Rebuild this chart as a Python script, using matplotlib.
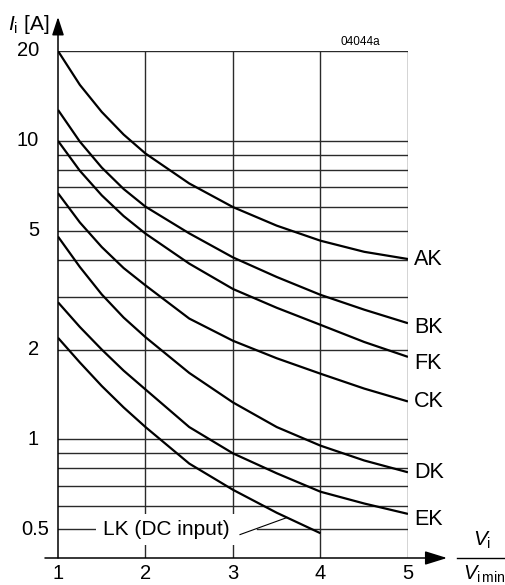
import numpy as np
import matplotlib
matplotlib.use("Agg")
import matplotlib.pyplot as plt
import matplotlib.transforms as mtrans

plt.rcParams['font.family'] = ['Liberation Sans', 'DejaVu Sans']
plt.rcParams['mathtext.fontset'] = 'custom'
plt.rcParams['mathtext.rm'] = 'Liberation Sans'
plt.rcParams['mathtext.it'] = 'Liberation Sans:italic'

# input voltage ratio Vi / Vi min
x_ratio = [1, 1.25, 1.5, 1.75, 2, 2.5, 3, 3.5, 4, 4.5, 5]

# input current Ii [A] per model
curve_names = ['AK', 'BK', 'FK', 'CK', 'DK', 'EK']
ak = [20.0, 15.4, 12.5, 10.5, 9.07, 7.2, 6.0, 5.2, 4.63, 4.25, 4.02]
bk = [12.7, 9.94, 8.14, 6.9, 6.02, 4.9, 4.07, 3.5, 3.05, 2.72, 2.45]
fk = [10.0, 7.94, 6.57, 5.6, 4.89, 3.88, 3.19, 2.76, 2.42, 2.12, 1.89]
ck = [6.68, 5.33, 4.41, 3.75, 3.28, 2.54, 2.14, 1.87, 1.66, 1.48, 1.34]
dk = [4.78, 3.78, 3.06, 2.56, 2.2, 1.67, 1.33, 1.1, 0.953, 0.85, 0.776]
ek = [2.88, 2.38, 2.0, 1.7, 1.47, 1.1, 0.898, 0.77, 0.668, 0.61, 0.563]
curves = [ak, bk, fk, ck, dk, ek]

# LK (DC input) stops at 4
x_lk = [1, 1.25, 1.5, 1.75, 2, 2.5, 3, 3.5, 4]
lk = [2.19, 1.81, 1.51, 1.28, 1.10, 0.83, 0.678, 0.568, 0.485]

x_ticks = [1, 2, 3, 4, 5]
y_ticks = [20, 10, 5, 2, 1, 0.5]
y_tick_labels = ['20', '10', '5', '2', '1', '0.5']
h_grid = [20, 10, 9, 8, 7, 6, 5, 4, 3, 2, 1, 0.9, 0.8, 0.7, 0.6]

fig = plt.figure(figsize=(5.06, 5.85), dpi=100)
ax = fig.add_axes([58 / 506, 27 / 585, 350 / 506, 507 / 585])
ax.set_yscale('log')
ax.set_xlim(1, 5)
ymin = 0.4007
ax.set_ylim(ymin, 20)
ax.axis('off')

gc = '#2a2a2a'
# grid
for v in h_grid:
    ax.plot([1, 5], [v, v], color=gc, lw=1.0, zorder=1)
# 0.5 line is interrupted by the LK label
ax.plot([1, 1.446], [0.5, 0.5], color=gc, lw=1.0, zorder=1)
ax.plot([3.274, 5], [0.5, 0.5], color=gc, lw=1.0, zorder=1)
for v in x_ticks[1:]:
    ax.plot([v, v], [ymin, 20], color=gc, lw=1.0, zorder=1)

# axes with arrows
arrow_kw = dict(color='black', lw=1.1, shrinkA=0, shrinkB=0)
ax.annotate('', xy=(1, 26.0), xytext=(1, ymin), annotation_clip=False,
            arrowprops=dict(arrowstyle='-|>,head_length=1.1,head_width=0.36', **arrow_kw))
ax.annotate('', xy=(5.446, ymin), xytext=(0.851, ymin), annotation_clip=False,
            arrowprops=dict(arrowstyle='-|>,head_length=1.35,head_width=0.42', **arrow_kw))

# curves
label_dy = [0, -3, -5, 0, 0, -4]
for name, ys, dy in zip(curve_names, curves, label_dy):
    ax.plot(x_ratio, ys, color='black', lw=1.6, zorder=3,
            solid_capstyle='butt', solid_joinstyle='round')
    off = mtrans.offset_copy(ax.transData, fig=fig, x=4.5, y=dy, units='points')
    ax.text(5, ys[-1], name, transform=off, ha='left', va='center', fontsize=15.5)

ax.plot(x_lk, lk, color='black', lw=1.6, zorder=3,
        solid_capstyle='butt', solid_joinstyle='round')

# LK label with leader line
ax.text(2.234, 0.5, 'LK (DC input)', ha='center', va='center', fontsize=15, zorder=4,
        bbox=dict(boxstyle='square,pad=0.3', fc='white', ec='none'))
lead_x = 3.617
lead_y = 10 ** np.interp(lead_x, x_lk, np.log10(lk))
ax.plot([3.08, lead_x], [0.48, lead_y], color='black', lw=0.8, zorder=3)

# tick labels
for v in x_ticks:
    tr = mtrans.offset_copy(ax.get_xaxis_transform(), fig=fig, y=-25, units='dots')
    ax.text(v, 0, str(v), transform=tr, ha='center', va='bottom', fontsize=14.5)
for v, s in zip(y_ticks, y_tick_labels):
    xo = -9 if s == '0.5' else -19
    tr = mtrans.offset_copy(ax.get_yaxis_transform(), fig=fig, x=xo, units='dots')
    ax.text(0, v, s, transform=tr, ha='right', va='center', fontsize=14.5)

# axis titles
fig.text(49 / 506, 1 - 24 / 585, r'$I_\mathrm{i}$ [A]', ha='right', va='center', fontsize=15)
fig.text(482 / 506, 1 - 540 / 585, r'$V_\mathrm{i}$', ha='center', va='center', fontsize=15)
fig.add_artist(plt.Line2D([457 / 506, 505 / 506], [1 - 558 / 585, 1 - 558 / 585],
                          color='black', lw=1.0))
fig.text(484 / 506, 1 - 574 / 585, r'$V_\mathrm{i\,min}$', ha='center', va='center', fontsize=14.5)
fig.text(360 / 506, 1 - 42 / 585, '04044a', ha='center', va='center', fontsize=8.5)

fig.savefig('out.png', dpi=100)
